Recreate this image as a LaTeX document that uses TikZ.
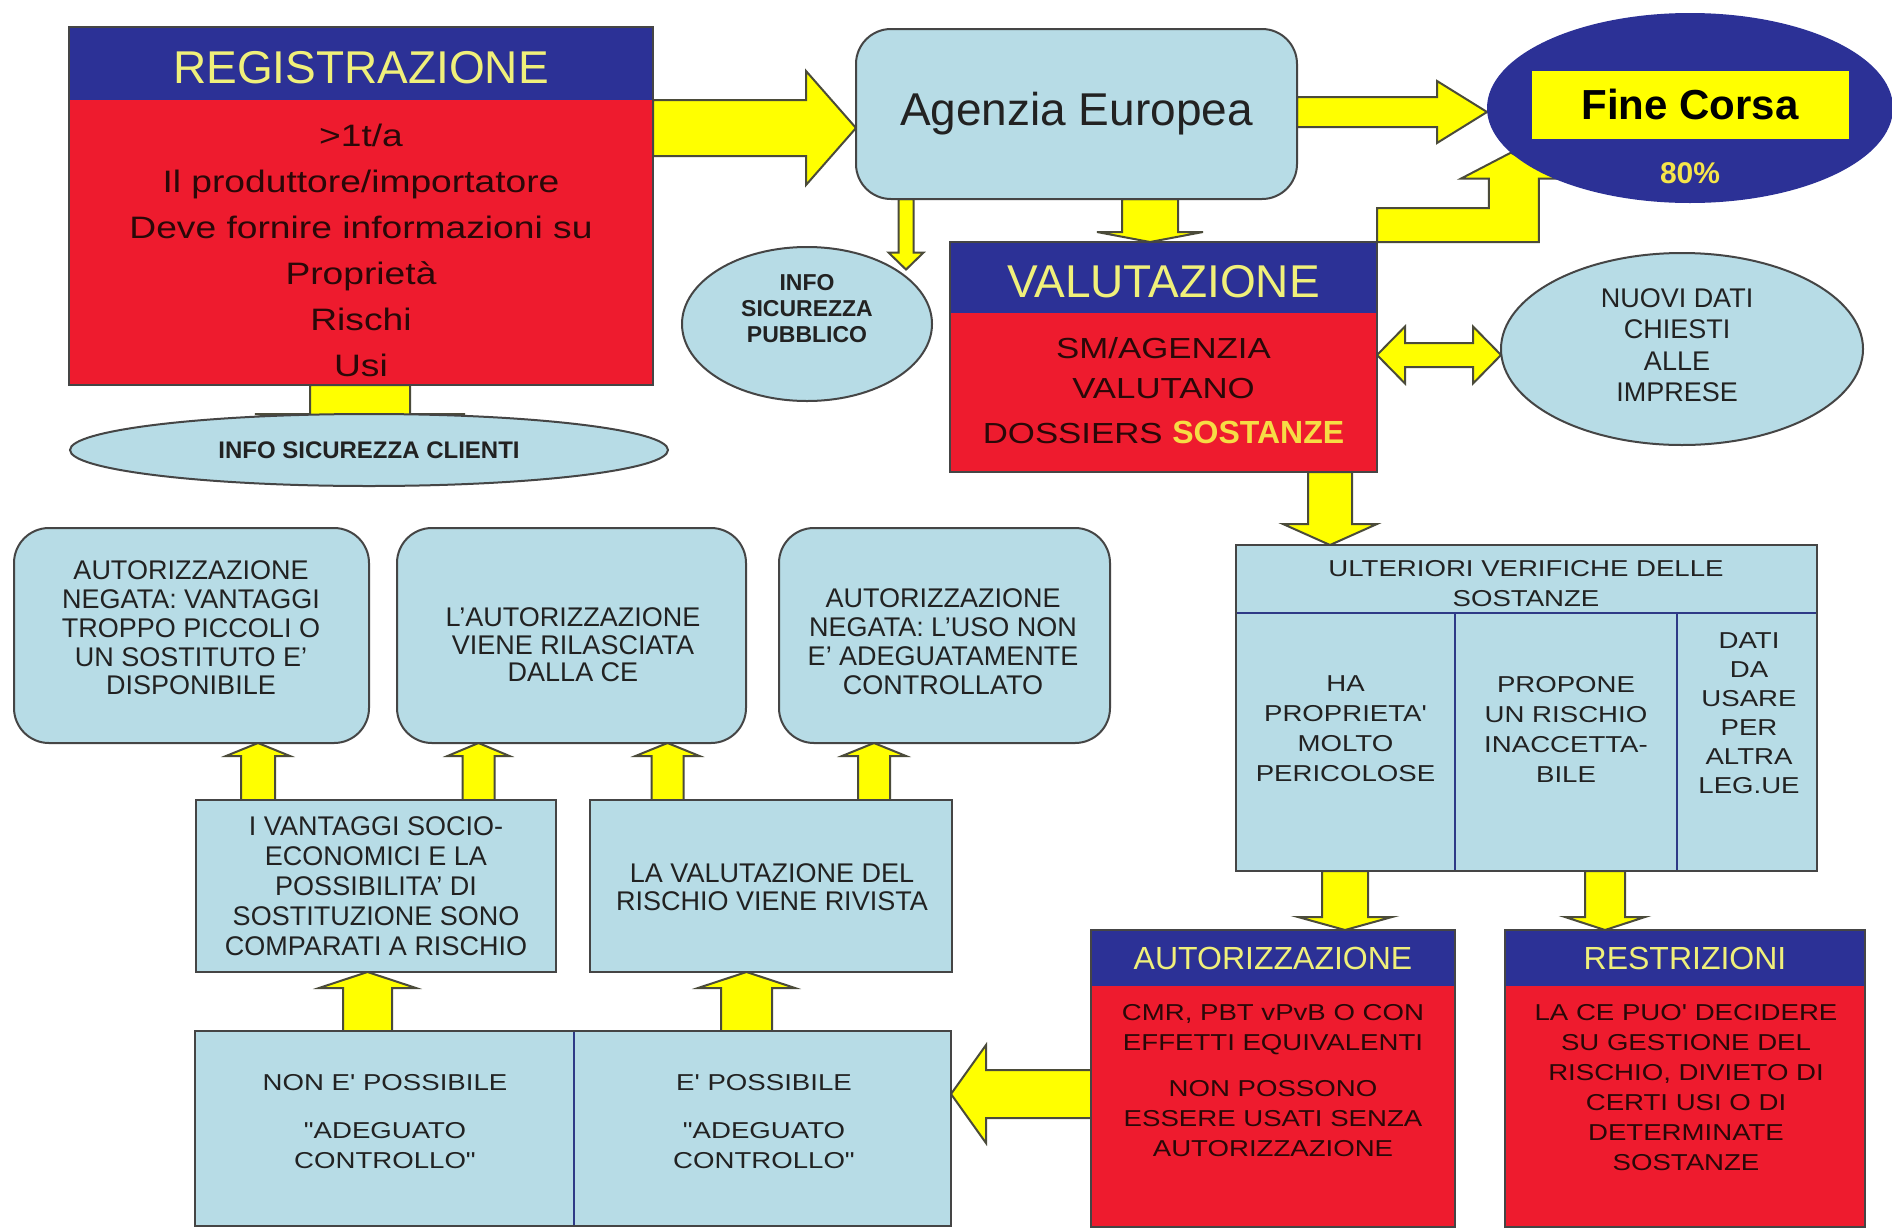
\documentclass[tikz,border=0pt]{standalone}
\usepackage{fontspec}
\setmainfont{Liberation Sans}
\newfontfamily\widefont[FakeStretch=1.2]{Liberation Sans}
\usetikzlibrary{calc,shapes.geometric}
\definecolor{hdrblue}{HTML}{2C3196}
\definecolor{boxred}{HTML}{EE1B2E}
\definecolor{lightb}{HTML}{B7DCE6}
\definecolor{hdrtxt}{HTML}{F0F07A}
\definecolor{arrowyel}{HTML}{FFFF00}
\definecolor{arrowline}{HTML}{4B4B3A}
\definecolor{edge}{HTML}{454545}
\definecolor{txtdark}{HTML}{222222}
\definecolor{redtxt}{HTML}{2A0808}
\definecolor{divblue}{HTML}{2E3A87}
\definecolor{pcttxt}{HTML}{F5E54A}
\definecolor{sostcol}{HTML}{F6DC45}
\pgfdeclarelayer{back}
\pgfsetlayers{back,main}
\newcommand\fsz[2]{\fontsize{#1}{#2}\selectfont}
% vertical block arrow: x, from, to, half shaft, half head, head length
\newcommand\blkv[6]{%
  \path[blk] let \p1=(#2), \p2=(#3), \n1={ifthenelse(\y2<\y1,1,-1)} in
    ({#1pt-#4pt},{\y1}) -- ({#1pt-#4pt},{\y2+(\n1)*#6pt}) -- ({#1pt-#5pt},{\y2+(\n1)*#6pt})
    -- ({#1pt},{\y2}) -- ({#1pt+#5pt},{\y2+(\n1)*#6pt}) -- ({#1pt+#4pt},{\y2+(\n1)*#6pt})
    -- ({#1pt+#4pt},{\y1}) -- cycle;}
% horizontal block arrow: y (image), from, to, half shaft, half head, head length
\newcommand\blkh[6]{%
  \path[blk] let \p1=(#2), \p2=(#3), \n1={ifthenelse(\x2<\x1,1,-1)} in
    ({\x1},{-#1pt+#4pt}) -- ({\x2+(\n1)*#6pt},{-#1pt+#4pt}) -- ({\x2+(\n1)*#6pt},{-#1pt+#5pt})
    -- ({\x2},{-#1pt}) -- ({\x2+(\n1)*#6pt},{-#1pt-#5pt}) -- ({\x2+(\n1)*#6pt},{-#1pt-#4pt})
    -- ({\x1},{-#1pt-#4pt}) -- cycle;}
\tikzset{
  every node/.style={inner sep=0pt, outer sep=0pt},
  lbbox/.style={draw=edge, line width=2pt, fill=lightb},
  rbox/.style={lbbox, rounded corners=35pt},
  ell/.style={ellipse, draw=edge, line width=2pt, fill=lightb},
  txt/.style={text=txtdark, align=center},
  hdr/.style={fill=hdrblue},
  hdrtext/.style={text=hdrtxt, align=center},
  redbody/.style={fill=boxred},
  redtext/.style={text=redtxt, align=center},
  frame/.style={draw=edge, line width=2pt},
  divline/.style={draw=divblue, line width=1.8pt},
  blk/.style={fill=arrowyel, draw=arrowline, line width=2pt, line join=miter},
}
\begin{document}
\begin{tikzpicture}[x=1pt, y=-1pt]
\useasboundingbox (0,0) rectangle (1892,1229);

% ---------- REGISTRAZIONE ----------
\node[redbody, minimum width=584pt, minimum height=358pt] (reg) at (361,206) {};
\node[hdr, minimum width=584pt, minimum height=73pt] (regh) at (361,63.5) {};
\draw[frame] (reg.north west) rectangle (reg.south east);
\node[hdrtext, font=\fsz{46}{50}] (regt) at (361,68) {REGISTRAZIONE};
\node[redtext, font=\widefont\fsz{31}{46}] (regb) at (361,250)
  {>1t/a\\Il produttore/importatore\\Deve fornire informazioni su\\Proprietà\\Rischi\\Usi};

\node[ell, minimum width=598pt, minimum height=72pt] (cli) at (369,450) {};
\node[txt, font=\bfseries\fsz{24}{26}] (clit) at (369,450) {INFO SICUREZZA CLIENTI};

% ---------- AGENZIA ----------
\node[rbox, minimum width=441pt, minimum height=170pt, font=\fsz{46}{50}, text=txtdark] (ag) at (1076.5,114) {Agenzia Europea};

\node[ell, minimum width=250pt, minimum height=154pt] (pub) at (807,324) {};
\node[txt, font=\bfseries\fsz{23}{26}] (pubt) at (807,309) {INFO\\SICUREZZA\\PUBBLICO};

% ---------- FINE CORSA ----------
\node[ellipse, fill=hdrblue, minimum width=406pt, minimum height=190pt] (fine) at (1690,108) {};
\node[fill=arrowyel, minimum width=317pt, minimum height=68pt] (finebox) at (1690,105) {};
\node[font=\bfseries\fsz{42}{46}, text=black] (finet) at (1690,104) {Fine Corsa};
\node[font=\bfseries\fsz{30}{34}, text=pcttxt] (pct) at (1690,173) {80\%};

% ---------- VALUTAZIONE ----------
\node[redbody, minimum width=427pt, minimum height=230pt] (val) at (1163.5,357) {};
\node[hdr, minimum width=427pt, minimum height=71pt] (valh) at (1163.5,277.5) {};
\draw[frame] (val.north west) rectangle (val.south east);
\node[hdrtext, font=\fsz{46}{50}] (valt) at (1163.5,282) {VALUTAZIONE};
\node[redtext, font=\widefont\fsz{29}{40}] (valb) at (1163.5,391)
  {SM/AGENZIA\\VALUTANO\\[5pt]DOSSIERS {\normalfont\bfseries\fsz{32}{40}\color{sostcol}SOSTANZE}};

\node[ell, minimum width=362pt, minimum height=192pt] (nuo) at (1682,349) {};
\node[txt, font=\fsz{27}{31.5}] (nuot) at (1677,345) {NUOVI DATI\\CHIESTI\\ALLE\\IMPRESE};

% ---------- ULTERIORI VERIFICHE ----------
\node[lbbox, minimum width=581pt, minimum height=326pt] (ult) at (1526.5,708) {};
\draw[divline] (1237,613) -- (1816,613);
\draw[divline] (1455,613) -- (1455,870);
\draw[divline] (1677,613) -- (1677,870);
\node[txt, font=\widefont\fsz{23}{30}] (ulth) at (1526,584) {ULTERIORI VERIFICHE DELLE\\SOSTANZE};
\node[txt, font=\widefont\fsz{23}{30}] (ult1) at (1345.5,729) {HA\\PROPRIETA'\\MOLTO\\PERICOLOSE};
\node[txt, font=\widefont\fsz{23}{30}] (ult2) at (1566,729) {PROPONE\\UN RISCHIO\\INACCETTA-\\BILE};
\node[txt, font=\widefont\fsz{23}{29}] (ult3) at (1749,713) {DATI\\DA\\USARE\\PER\\ALTRA\\LEG.UE};

% ---------- AUTORIZZAZIONE / RESTRIZIONI ----------
\node[redbody, minimum width=364pt, minimum height=297pt] (aut) at (1273,1078.5) {};
\node[hdr, minimum width=364pt, minimum height=56pt] (auth) at (1273,958) {};
\draw[frame] (aut.north west) rectangle (aut.south east);
\node[hdrtext, font=\fsz{32}{36}] (autt) at (1273,958) {AUTORIZZAZIONE};
\node[redtext, font=\widefont\fsz{23}{30}] (autb) at (1273,1081)
  {CMR, PBT vPvB O CON\\EFFETTI EQUIVALENTI\\[16pt]NON POSSONO\\ESSERE USATI SENZA\\AUTORIZZAZIONE};

\node[redbody, minimum width=360pt, minimum height=297pt] (res) at (1685,1078.5) {};
\node[hdr, minimum width=360pt, minimum height=56pt] (resh) at (1685,958) {};
\draw[frame] (res.north west) rectangle (res.south east);
\node[hdrtext, font=\fsz{32}{36}] (rest) at (1685,958) {RESTRIZIONI};
\node[redtext, font=\widefont\fsz{23}{30}] (resb) at (1686,1088)
  {LA CE PUO' DECIDERE\\SU GESTIONE DEL\\RISCHIO, DIVIETO DI\\CERTI USI O DI\\DETERMINATE\\SOSTANZE};

% ---------- TOP ROW (outcomes) ----------
\node[rbox, minimum width=355pt, minimum height=215pt] (b1) at (191.5,635.5) {};
\node[txt, font=\fsz{27}{28.75}] (b1t) at (191,628)
  {AUTORIZZAZIONE\\NEGATA: VANTAGGI\\TROPPO PICCOLI O\\UN SOSTITUTO E'\\DISPONIBILE};
\node[rbox, minimum width=349pt, minimum height=215pt] (b2) at (571.5,635.5) {};
\node[txt, font=\fsz{27}{27.5}] (b2t) at (573,645) {L'AUTORIZZAZIONE\\VIENE RILASCIATA\\DALLA CE};
\node[rbox, minimum width=331pt, minimum height=215pt] (b3) at (944.5,635.5) {};
\node[txt, font=\fsz{27}{29}] (b3t) at (943,642)
  {AUTORIZZAZIONE\\NEGATA: L'USO NON\\E' ADEGUATAMENTE\\CONTROLLATO};

% ---------- MIDDLE ROW ----------
\node[lbbox, minimum width=360pt, minimum height=172pt] (b4) at (376,886) {};
\node[txt, font=\fsz{27}{30}] (b4t) at (376,886)
  {I VANTAGGI SOCIO-\\ECONOMICI E LA\\POSSIBILITA' DI\\SOSTITUZIONE SONO\\COMPARATI A RISCHIO};
\node[lbbox, minimum width=362pt, minimum height=172pt] (b5) at (771,886) {};
\node[txt, font=\fsz{27}{28}] (b5t) at (772,887) {LA VALUTAZIONE DEL\\RISCHIO VIENE RIVISTA};

% ---------- BOTTOM BOX ----------
\node[lbbox, minimum width=756pt, minimum height=195pt] (bot) at (573,1128.5) {};
\draw[divline] (574,1032) -- (574,1225);
\node[txt, font=\widefont\fsz{23}{30}] (bot1) at (385,1122) {NON E' POSSIBILE\\[18pt]"ADEGUATO\\CONTROLLO"};
\node[txt, font=\widefont\fsz{23}{30}] (bot2) at (764,1122) {E' POSSIBILE\\[18pt]"ADEGUATO\\CONTROLLO"};

% ---------- ARROWS ----------
\begin{pgfonlayer}{back}
\fill[white] (0,0) rectangle (1892,1229);
\blkh{128}{reg.east}{ag.west}{28}{57}{50}
\blkh{112}{ag.east}{fine.west}{15}{31}{50}
\blkv{1150}{ag.south}{val.north}{28}{53}{10}
\blkv{906}{ag.south}{pub.north east}{7.5}{17.5}{17}
\blkv{360}{reg.south}{$(cli.north)+(0,15)$}{50}{105}{15}
\blkv{1330}{val.south}{ult.north}{22}{47}{21}
\blkv{1345}{ult.south}{aut.north}{23}{47}{13}
\blkv{1605}{ult.south}{res.north}{20}{40}{13}
\blkh{1094}{aut.west}{bot.east}{24}{49}{35}
\blkv{367.5}{bot.north}{b4.south}{24.5}{48.5}{16}
\blkv{746.5}{bot.north}{b5.south}{25.5}{48.5}{16}
\blkv{258}{b4.north}{b1.south}{17}{32}{13}
\blkv{478.5}{b4.north}{b2.south}{16}{31}{13}
\blkv{667.5}{b5.north}{b2.south}{16}{32}{13}
\blkv{874}{b5.north}{b3.south}{16}{32}{13}
% double arrow VALUTAZIONE <-> NUOVI DATI
\path[blk] let \p1=(val.east), \p2=(nuo.west) in
  ({\x1},-355pt) -- ({\x1+28pt},-326.5pt) -- ({\x1+28pt},-343pt) -- ({\x2-28pt},-343pt)
  -- ({\x2-28pt},-326.5pt) -- ({\x2},-355pt) -- ({\x2-28pt},-383.5pt) -- ({\x2-28pt},-367pt)
  -- ({\x1+28pt},-367pt) -- ({\x1+28pt},-383.5pt) -- cycle;
% elbow arrow VALUTAZIONE -> FINE CORSA
\path[blk] let \p1=(val.north east), \p2=(fine.194) in
  ({\x1},{\y1}) -- ({\x1},{\y1+34pt}) -- ({\x2-22pt},{\y1+34pt}) -- ({\x2-22pt},{\y2-26pt})
  -- ({\x2-50pt},{\y2-26pt}) -- ({\x2},{\y2}) -- ({\x2+48pt},{\y2-26pt}) -- ({\x2+28pt},{\y2-26pt})
  -- ({\x2+28pt},{\y1}) -- cycle;
\end{pgfonlayer}
\end{tikzpicture}
\end{document}
